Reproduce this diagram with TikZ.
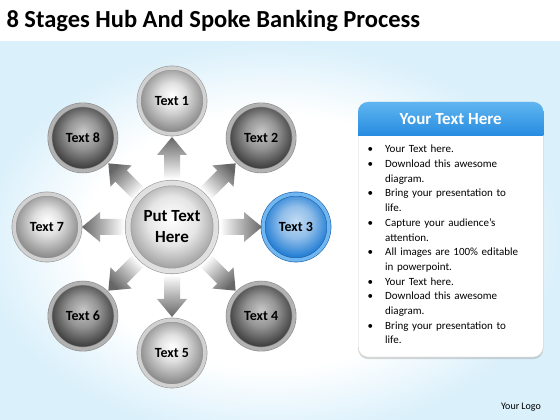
\documentclass[tikz,border=0pt]{standalone}
\usepackage{fontspec}
\setmainfont{Carlito}
\usepackage{enumitem}
\usetikzlibrary{calc, shadows}

\definecolor{bgblue}{RGB}{218,240,251}
\definecolor{hdrtop}{RGB}{96,181,240}
\definecolor{hdrbot}{RGB}{38,139,224}
\definecolor{ballblue}{RGB}{36,126,212}
\definecolor{ringblue}{RGB}{112,182,240}

\pgfdeclareradialshading{backdrop}{\pgfpoint{0bp}{0bp}}{color(0bp)=(white); color(16bp)=(white); color(25bp)=(bgblue); color(50bp)=(bgblue)}
\pgfdeclareradialshading{lightball}{\pgfpoint{0bp}{5bp}}{color(0bp)=(white); color(10bp)=(black!12); color(25bp)=(black!45); color(50bp)=(black!45)}
\pgfdeclareradialshading{darkball}{\pgfpoint{0bp}{5bp}}{color(0bp)=(black!22); color(12bp)=(black!42); color(25bp)=(black!75); color(50bp)=(black!75)}
\pgfdeclareradialshading{blueball}{\pgfpoint{0bp}{5bp}}{color(0bp)=(ballblue!28!white); color(12bp)=(ballblue!50!white); color(25bp)=(ballblue); color(50bp)=(ballblue)}
\pgfdeclareradialshading{hubball}{\pgfpoint{0bp}{5bp}}{color(0bp)=(white); color(14bp)=(black!10); color(25bp)=(black!35); color(50bp)=(black!35)}

\tikzset{
	sat/.style = {circle, shade, minimum size = 66pt, inner sep = 0pt, line width = 0.6pt, double distance = 3.5pt, font = \bfseries\fontsize{14}{14}\selectfont},
	litesat/.style = {sat, shading = lightball, draw = black!40, double = black!18},
	darksat/.style = {sat, shading = darkball, draw = black!45, double = black!30},
	bluesat/.style = {sat, shading = blueball, draw = ballblue!80!black, double = ringblue},
	spoke/.style = {top color = black!60, bottom color = white}
}

\begin{document}
\begin{tikzpicture}[x = 1pt, y = 1pt]

	% Background

	\useasboundingbox (0, 0) rectangle (560, 420);
	\fill [white] (0, 0) rectangle (560, 420);
	\shade [shading = backdrop] (-20, -20) rectangle (560, 378);

	% Title

	\node (title) [anchor = west, font = \bfseries\fontsize{24.5}{25}\selectfont] at (3, 399) {8 Stages Hub And Spoke Banking Process};

	% Hub + stages

	\node (hub) [circle, shade, shading = hubball, minimum size = 88pt, inner sep = 0pt, line width = 0.6pt, draw = black!40, double = black!12, double distance = 5pt, font = \bfseries\fontsize{17}{21}\selectfont, align = center] at (172, 193) {Put Text\\Here};

	\node (s1) [litesat] at ([shift = {(90 : 126)}] hub) {Text 1};
	\node (s2) [darksat] at ([shift = {(45 : 126)}] hub) {Text 2};
	\node (s3) [bluesat] at ([shift = {(0 : 124)}] hub) {Text 3};
	\node (s4) [darksat] at ([shift = {(-45 : 126)}] hub) {Text 4};
	\node (s5) [litesat] at ([shift = {(-90 : 126)}] hub) {Text 5};
	\node (s6) [darksat] at ([shift = {(-135 : 126)}] hub) {Text 6};
	\node (s7) [litesat] at ([shift = {(180 : 125)}] hub) {Text 7};
	\node (s8) [darksat] at ([shift = {(135 : 126)}] hub) {Text 8};

	% Spokes from hub to stages

	\foreach \i / \a in {1/90, 2/45, 3/0, 4/-45, 5/-90, 6/-135, 7/180, 8/135} {
		\pgfmathsetmacro \sa {\a - 90}
		\shade [spoke, shading angle = \sa]
			($(hub)!48pt!(s\i)!8pt!90:(s\i)$) -- ($(hub)!72pt!(s\i)!8pt!90:(s\i)$) -- ($(hub)!72pt!(s\i)!15pt!90:(s\i)$)
			-- ($(hub)!90pt!(s\i)$)
			-- ($(hub)!72pt!(s\i)!15pt!-90:(s\i)$) -- ($(hub)!72pt!(s\i)!8pt!-90:(s\i)$) -- ($(hub)!48pt!(s\i)!8pt!-90:(s\i)$) -- cycle;
	}

	% Text panel

	\node (panel) [anchor = north west, draw = black!20, fill = white, rounded corners = 10pt, minimum width = 185pt, minimum height = 255pt, drop shadow = {opacity = 0.3, shadow xshift = 0pt, shadow yshift = -2pt}] at (358, 318) {};

	\begin{scope}
		\clip [rounded corners = 10pt] (panel.south west) rectangle (panel.north east);
		\shade [top color = hdrtop, bottom color = hdrbot] (panel.north west) rectangle ($(panel.north east) + (0, -34)$);
	\end{scope}

	\node (head) [text = white, font = \bfseries\fontsize{17}{17}\selectfont] at ($(panel.north) + (0, -17)$) {Your Text Here};

	\node (list) [anchor = north west, text width = 175pt, inner sep = 0pt, align = left, font = \fontsize{11}{14.7}\selectfont] at (365, 282) {%
		\begin{itemize}[leftmargin = 20pt, labelsep = 12pt, nosep]
			\item Your Text here.
			\item Download this awesome\\ diagram.
			\item Bring your presentation to\\ life.
			\item Capture your audience’s\\ attention.
			\item All images are 100\% editable\\ in powerpoint.
			\item Your Text here.
			\item Download this awesome\\ diagram.
			\item Bring your presentation to\\ life.
		\end{itemize}};

	% Logo

	\node (logo) [font = \fontsize{10}{10}\selectfont] at (521, 13) {Your Logo};

\end{tikzpicture}
\end{document}
